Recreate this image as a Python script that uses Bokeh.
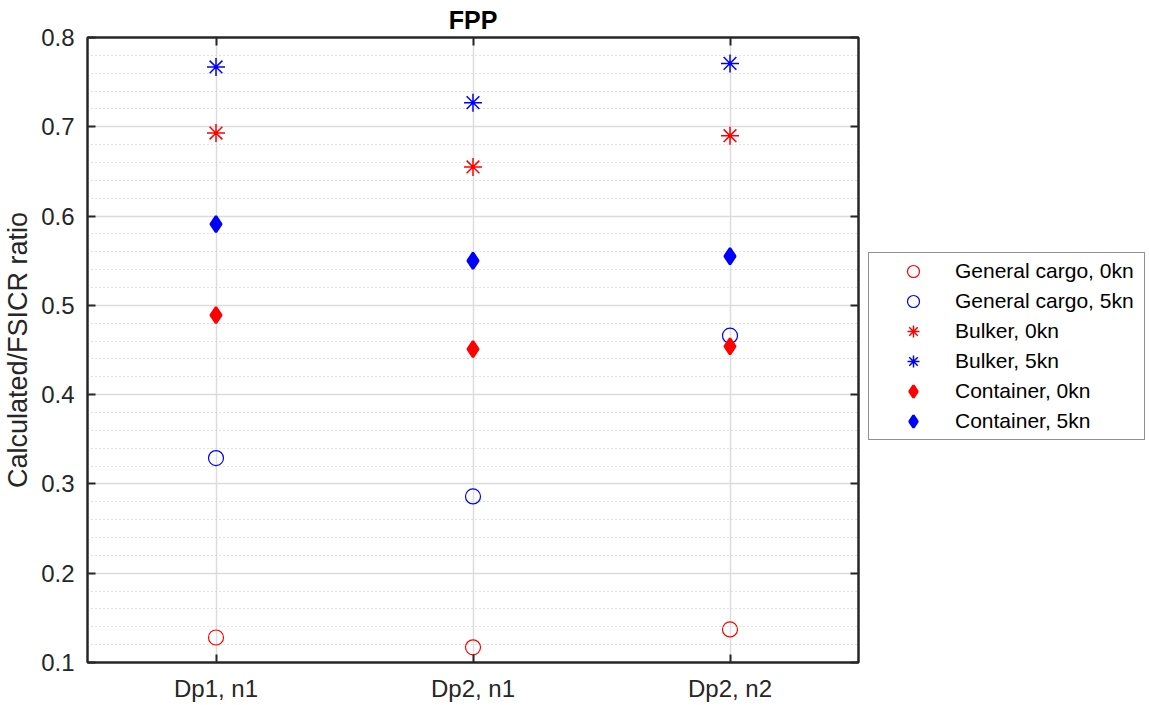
import numpy as np
from bokeh.plotting import figure
from bokeh.layouts import row
from bokeh.models import Range1d, FixedTicker, LinearAxis, Legend, LegendItem
from bokeh.embed import file_html
from bokeh.resources import INLINE

# Propeller configurations on the x axis
categories = ["Dp1, n1", "Dp2, n1", "Dp2, n2"]

# Calculated / FSICR ratio per ship type and speed
general_cargo_0kn = [0.128, 0.117, 0.137]
general_cargo_5kn = [0.329, 0.286, 0.466]
bulker_0kn = [0.693, 0.655, 0.690]
bulker_5kn = [0.767, 0.727, 0.771]
container_0kn = [0.489, 0.451, 0.454]
container_5kn = [0.591, 0.550, 0.555]

y_ticks = [0.1, 0.2, 0.3, 0.4, 0.5, 0.6, 0.7, 0.8]
y_tick_labels = ["0.1", "0.2", "0.3", "0.4", "0.5", "0.6", "0.7", "0.8"]

FONT = "Liberation Sans"
AXIS_COLOR = "#262626"
RED = "#ff0000"
BLUE = "#0000ff"

# label, values, marker, size, line colour, fill colour, line width
SERIES = [
    ("General cargo, 0kn", general_cargo_0kn, "circle", 15, RED, None, 1.2),
    ("General cargo, 5kn", general_cargo_5kn, "circle", 15, BLUE, None, 1.2),
    ("Bulker, 0kn", bulker_0kn, "asterisk", 18, RED, RED, 1.5),
    ("Bulker, 5kn", bulker_5kn, "asterisk", 18, BLUE, BLUE, 1.5),
    ("Container, 0kn", container_0kn, "diamond", 16, RED, RED, 2.5),
    ("Container, 5kn", container_5kn, "diamond", 16, BLUE, BLUE, 2.5),
]

x_pos = [i + 1 for i in range(len(categories))]

p = figure(
    width=866, height=705,
    x_range=Range1d(0.5, len(categories) + 0.5),
    y_range=Range1d(y_ticks[0], y_ticks[-1]),
    output_backend="svg", toolbar_location=None,
    min_border_left=87, min_border_right=8,
    min_border_top=37, min_border_bottom=43,
    background_fill_color="white", border_fill_color="white",
)

# Title
p.title.text = "FPP"
p.title.align = "center"
p.title.text_font = FONT
p.title.text_font_size = "25px"
p.title.text_font_style = "bold"
p.title.text_color = "#000000"
p.title.standoff = 7

# Frame box
p.outline_line_color = AXIS_COLOR
p.outline_line_width = 2

# Tickers
minor_y = [round(v, 2) for v in np.arange(0.12, 0.8, 0.02) if round(v * 100) % 10 != 0]
y_ticker = FixedTicker(ticks=y_ticks, minor_ticks=minor_y)
x_ticker = FixedTicker(ticks=x_pos)

for ax in (p.xaxis[0], p.yaxis[0]):
    ax.axis_line_color = AXIS_COLOR
    ax.axis_line_width = 2
    ax.major_tick_line_color = AXIS_COLOR
    ax.major_tick_line_width = 2
    ax.major_tick_in = 8
    ax.major_tick_out = 0
    ax.minor_tick_in = 0
    ax.minor_tick_out = 0
    ax.major_label_text_font = FONT
    ax.major_label_text_font_size = "24px"
    ax.major_label_text_color = AXIS_COLOR

p.xaxis.major_label_standoff = 12
p.yaxis.major_label_standoff = 13
p.xaxis.ticker = x_ticker
p.xaxis.major_label_overrides = {x: c for x, c in zip(x_pos, categories)}
p.yaxis.ticker = y_ticker
p.yaxis.major_label_overrides = {t: s for t, s in zip(y_ticks, y_tick_labels)}
p.yaxis.axis_label = "Calculated/FSICR ratio"
p.yaxis.axis_label_text_font = FONT
p.yaxis.axis_label_text_font_size = "27px"
p.yaxis.axis_label_text_font_style = "normal"
p.yaxis.axis_label_text_color = AXIS_COLOR
p.yaxis.axis_label_standoff = 5

# Tick marks on the top and right sides of the box (unlabeled minor ticks)
top_axis = LinearAxis(ticker=FixedTicker(ticks=[], minor_ticks=x_pos))
right_axis = LinearAxis(ticker=FixedTicker(ticks=[], minor_ticks=y_ticks))
for ax in (top_axis, right_axis):
    ax.axis_line_color = AXIS_COLOR
    ax.axis_line_width = 2
    ax.minor_tick_line_color = AXIS_COLOR
    ax.minor_tick_line_width = 2
    ax.minor_tick_in = 8
    ax.minor_tick_out = 0
    ax.major_tick_in = 0
    ax.major_tick_out = 0
    ax.major_label_standoff = 0
p.add_layout(top_axis, "above")
p.add_layout(right_axis, "right")

# Grid
p.xgrid.ticker = x_ticker
p.ygrid.ticker = y_ticker
for g in (p.xgrid[0], p.ygrid[0]):
    g.grid_line_color = "#dcdcdc"
    g.grid_line_width = 1.5
p.ygrid.minor_grid_line_color = "#c4c4c4"
p.ygrid.minor_grid_line_dash = "1 3"
p.ygrid.minor_grid_line_width = 1

# Legend panel beside the axes
lg = figure(
    width=1149 - 866, height=705,
    x_range=Range1d(0, 1), y_range=Range1d(0, 1),
    output_backend="svg", toolbar_location=None,
    x_axis_location=None, y_axis_location=None,
    min_border=0, outline_line_color=None,
    background_fill_color="white", border_fill_color="white",
)
lg.xgrid.visible = False
lg.ygrid.visible = False

items = []
for label, values, marker, size, color, fill, lw in SERIES:
    p.scatter(x_pos, values, marker=marker, size=size,
              fill_color=fill, line_color=color, line_width=lw)
    # hidden copy used only for the legend swatch
    proxy = lg.scatter(x_pos, values, marker=marker, size=size,
                       fill_color=fill, line_color=color, line_width=lw,
                       visible=False)
    items.append(LegendItem(label=label, renderers=[proxy]))

legend = Legend(
    items=items,
    location=(2, 222),
    padding=3, margin=0, spacing=0,
    glyph_width=82, glyph_height=30, label_height=30, label_width=186,
    label_standoff=1,
    label_text_font=FONT, label_text_font_size="21px", label_text_color="#000000",
    border_line_color="#262626", border_line_width=1.5,
    background_fill_color="white", background_fill_alpha=1.0,
    inactive_fill_alpha=0.0,
)
lg.add_layout(legend, "center")

layout = row(p, lg, spacing=0)
open("out.html", "w").write(file_html(layout, INLINE))
